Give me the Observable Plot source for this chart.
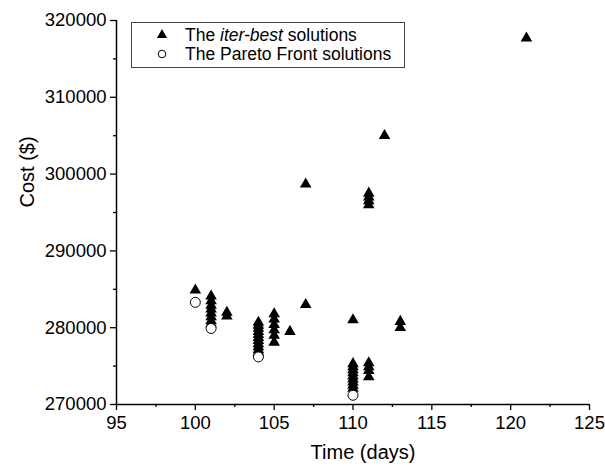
<!DOCTYPE html>
<html><head><meta charset="utf-8">
<script src="https://cdn.jsdelivr.net/npm/d3@7"></script>
<script src="https://cdn.jsdelivr.net/npm/@observablehq/plot@0.6"></script>
<style>
body{margin:0;background:#fff;font-family:"Liberation Sans",Arial,sans-serif;}
#wrap{position:relative;width:605px;height:469px;}
#legend{position:absolute;left:131px;top:22px;width:274px;height:46px;border:1px solid #444;box-sizing:border-box;font-size:17.5px;color:#000;background:#fff;}
#legend .row{position:absolute;left:0;height:20px;line-height:20px;white-space:nowrap;}
#legend svg{position:absolute;left:20px;top:0;}
#legend span.t{position:absolute;left:53px;top:0;}
</style>
</head><body>
<div id="wrap"></div>
<script>
// iter-best solutions
const iterTime = [
  100,
  101,101,101,101,101,101,101,101,
  102,102,
  104,104,104,104,104,104,104,104,104,104,104,
  105,105,105,105,105,105,
  106,
  107,107,
  110,110,110,110,110,110,110,110,110,110,
  111,111,111,111,111,111,111,111,
  112,
  113,113,
  121
];
const iterCost = [
  284900,
  284100,283500,282900,282400,281900,281400,280900,280500,
  282000,281500,
  280700,280300,279900,279500,279100,278700,278300,277900,277500,277100,276800,
  281800,281100,280400,279700,279000,278100,
  279500,
  298700,283000,
  281000,275300,274900,274500,274100,273700,273300,272900,272500,272100,
  297500,297000,296500,296000,275400,274900,274400,273600,
  305000,
  280800,280000,
  317700
];
// Pareto Front solutions
const paretoTime = [100, 101, 104, 110];
const paretoCost = [283300, 279900, 276200, 271200];

const xDomain = [95, 125];
const yDomain = [270000, 320000];
const xMajor = d3.range(95, 125.1, 5);
const xMinor = d3.range(97.5, 125, 5);
const yMajor = d3.range(270000, 320001, 10000);
const yMinor = d3.range(275000, 320000, 10000);

const font = "'Liberation Sans', Arial, sans-serif";

const chart = Plot.plot({
  width: 605,
  height: 469,
  marginLeft: 116,
  marginRight: 16,
  marginTop: 20,
  marginBottom: 65,
  style: {fontFamily: font, fontSize: "18.5px", color: "#000", background: "#fff"},
  x: {domain: xDomain},
  y: {domain: yDomain},
  marks: [
    Plot.axisX(xMajor, {tickSize: 6, tickPadding: 5, tickFormat: d3.format("d"), label: null, strokeWidth: 1.3}),
    Plot.axisX(xMinor, {tickSize: 3, tickFormat: () => "", label: null, strokeWidth: 1.3}),
    Plot.axisY(yMajor, {tickSize: 6, tickPadding: 4, tickFormat: d3.format("d"), label: null, strokeWidth: 1.3}),
    Plot.axisY(yMinor, {tickSize: 3, tickFormat: () => "", label: null, strokeWidth: 1.3}),
    Plot.ruleX([xDomain[0]], {stroke: "#000", strokeWidth: 1.5}),
    Plot.ruleY([yDomain[0]], {stroke: "#000", strokeWidth: 1.5}),
    Plot.text(["Time (days)"], {frameAnchor: "bottom", dy: 54, dx: 10, fontSize: 20, fill: "#000"}),
    Plot.text(["Cost ($)"], {frameAnchor: "left", dx: -89, dy: -5, rotate: -90, fontSize: 20, fill: "#000"}),
    Plot.dot(iterCost, {x: iterTime, y: iterCost, symbol: "triangle", r: 4.3, fill: "#000", stroke: "none"}),
    Plot.dot(paretoCost, {x: paretoTime, y: paretoCost, symbol: "circle", r: 5, fill: "#fff", stroke: "#000", strokeWidth: 1})
  ]
});
const wrap = document.getElementById("wrap");
wrap.appendChild(chart);

const legend = document.createElement("div");
legend.id = "legend";
legend.innerHTML = `
  <div class="row" style="top:2px;width:100%">
    <svg width="20" height="20" viewBox="-10 -10 20 20"><path d="${d3.symbol(d3.symbolTriangle, 45)()}" fill="#000"/></svg>
    <span class="t">The <i>iter-best</i> solutions</span>
  </div>
  <div class="row" style="top:21px;width:100%">
    <svg width="20" height="20" viewBox="-10 -10 20 20"><circle r="3.8" fill="#fff" stroke="#000" stroke-width="1"/></svg>
    <span class="t">The Pareto Front solutions</span>
  </div>`;
wrap.appendChild(legend);
</script>
</body></html>
